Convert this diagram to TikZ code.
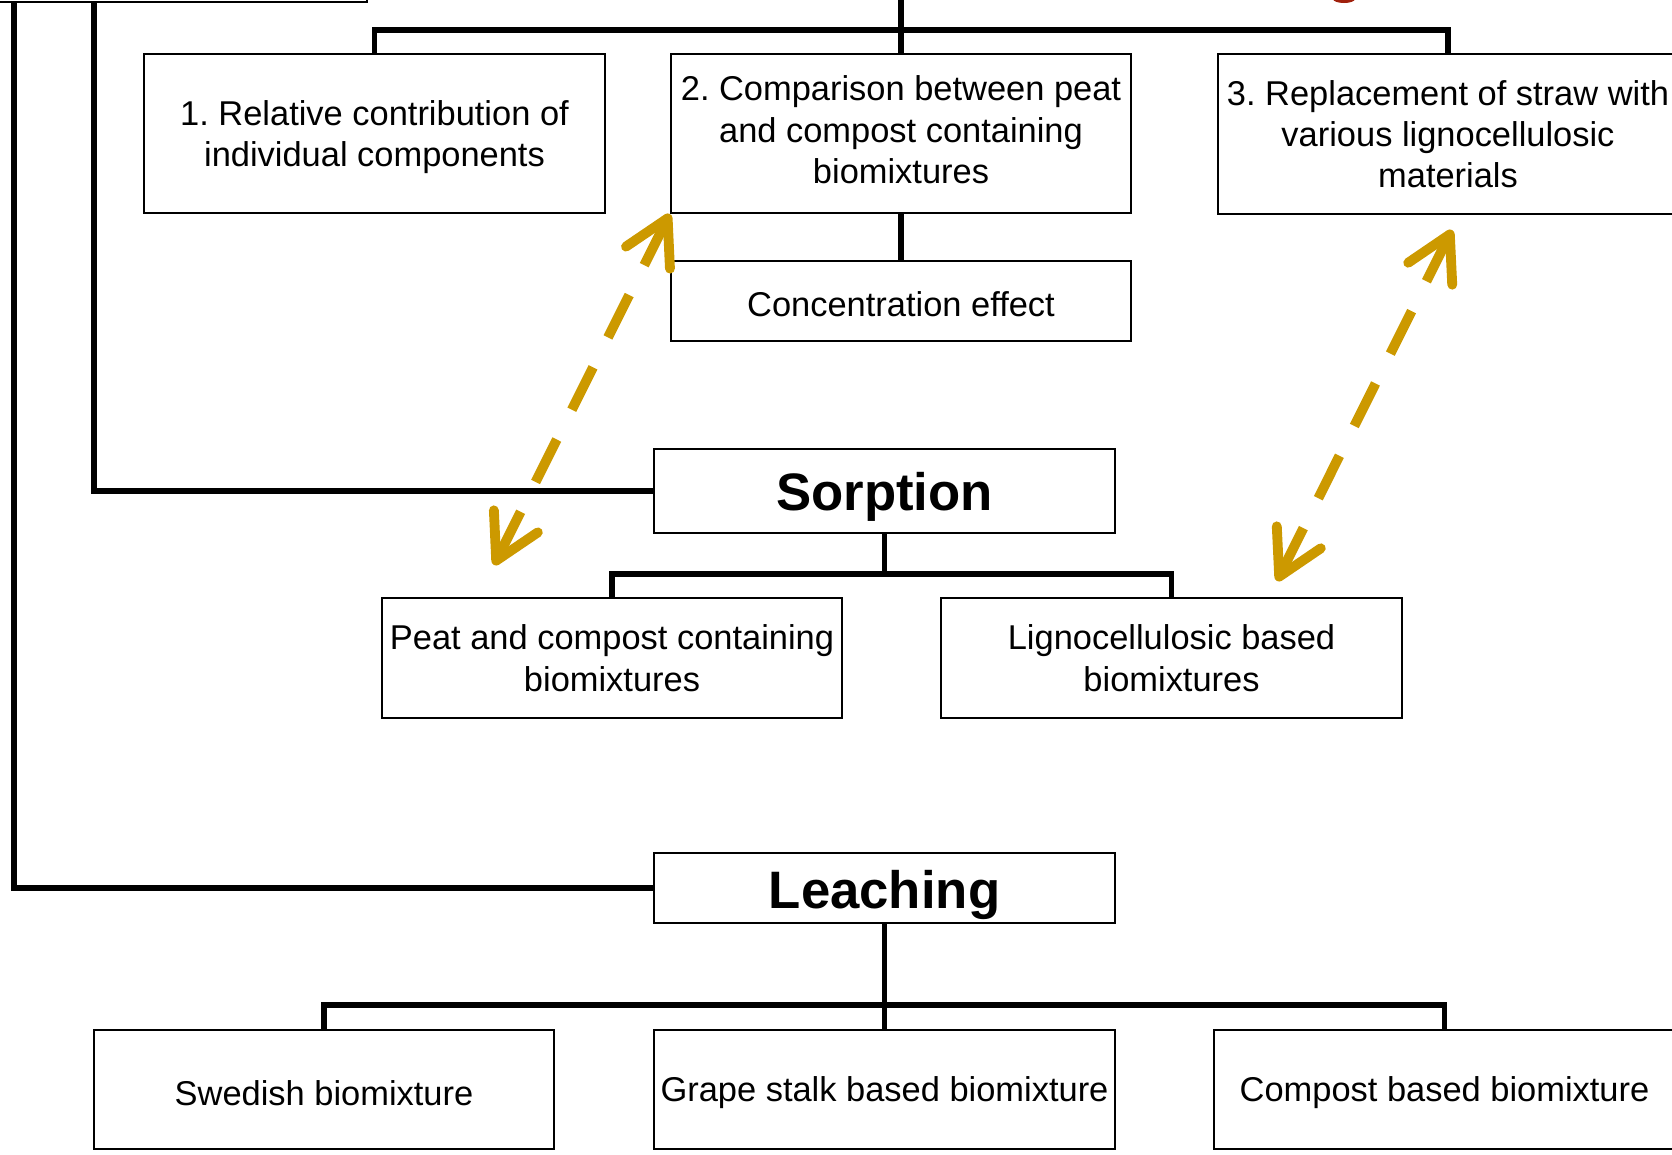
\documentclass[tikz,border=0pt]{standalone}
\usepackage{fontspec}
\setmainfont{Liberation Sans}
\usepackage{xcolor}
\usepackage{tikz}
\usetikzlibrary{arrows.meta}
\frenchspacing

\definecolor{arrowgold}{RGB}{204,153,0}
\definecolor{titlered}{RGB}{160,32,12}

\tikzset{
  drop/.style={execute at begin node={\rule{0pt}{#1}}},
  box/.style={draw, line width=1.1pt, minimum width=9.21cm, align=center, inner sep=1pt,
    font=\fontsize{19.6}{23.5}\selectfont, drop=18pt},
  headbox/.style={box, font=\fontsize{30}{36}\selectfont\bfseries, drop=28pt},
  conn/.style={line width=3.1pt},
  twoway/.style={draw=arrowgold, line width=5.6pt, dash pattern=on 27pt off 19pt,
    arrows={Straight Barb[round,length=25pt,width=28pt]-Straight Barb[round,length=25pt,width=28pt]}}
}

\begin{document}
\begin{tikzpicture}[x=0.02cm, y=-0.02cm]
            \useasboundingbox (0,0) rectangle (1672,1154);
            \clip (0,0) rectangle (1672,1154);

            % cut-off parts at the top
            \node[box, anchor=south east, minimum height=3.2cm] (prev) at (368,3) {};
            \fill[titlered] (1344,-1) ellipse [x radius=0.22cm, y radius=0.08cm];
            \coordinate (top) at (901,-20);
            \coordinate (lin1) at (14,3);
            \coordinate (lin2) at (94,3);

            % studies
            \node[box, minimum height=3.18cm, text depth=-4pt] (comp1) at (374.5,133.5) {1. Relative contribution of\\individual components};
            \node[box, minimum height=3.18cm, text depth=4.5pt] (comp2) at (901,133.5) {2. Comparison between peat\\and compost containing\\biomixtures};
            \node[box, minimum height=3.2cm, text depth=-3pt] (comp3) at (1448,134) {3. Replacement of straw with\\various lignocellulosic\\materials};
            \node[box, minimum height=1.6cm] (conc) at (901,301) {Concentration effect};

            % sorption
            \node[headbox, minimum height=1.68cm] (sorp) at (884.5,491) {Sorption};
            \node[box, minimum height=2.4cm, text depth=-4.5pt] (peat) at (612,658) {Peat and compost containing\\biomixtures};
            \node[box, minimum height=2.4cm, text depth=-4.5pt] (ligno) at (1171.5,658) {Lignocellulosic based\\biomixtures};

            % leaching
            \node[headbox, minimum height=1.4cm, drop=29.5pt] (leach) at (884.5,888) {Leaching};
            \node[box, minimum height=2.38cm] (swed) at (324,1089.5) {Swedish biomixture};
            \node[box, minimum height=2.38cm] (grape) at (884.5,1089.5) {Grape stalk based biomixture};
            \node[box, minimum height=2.38cm] (cbased) at (1444.5,1089.5) {Compost based biomixture};

            \coordinate (hub1) at (901,30);
            \coordinate (hub2) at (884.5,574);
            \coordinate (hub3) at (884.5,1005);

            \draw[conn] (top) -- (hub1); % title-studies
            \draw[conn] (hub1) -| (comp1.north);
            \draw[conn] (hub1) -- (comp2.north);
            \draw[conn] (hub1) -| (comp3.north);
            \draw[conn] (comp2.south) -- (conc.north); % 2-concentration

            \draw[conn] (lin2) |- (sorp.west); % box-sorption
            \draw[conn] (sorp.south) -- (hub2);
            \draw[conn] (hub2) -| (peat.north);
            \draw[conn] (hub2) -| (ligno.north);

            \draw[conn] (lin1) |- (leach.west); % box-leaching
            \draw[conn] (leach.south) -- (hub3);
            \draw[conn] (hub3) -| (swed.north);
            \draw[conn] (hub3) -- (grape.north);
            \draw[conn] (hub3) -| (cbased.north);

            \coordinate (a1) at (494,565);
            \coordinate (a2top) at (1452,230);
            \coordinate (a2bot) at (1277,581);
            \draw[twoway] (comp2.south west) -- (a1); % 2-peat
            \draw[twoway] (a2top) -- (a2bot); % 3-ligno
        \end{tikzpicture}
\end{document}
